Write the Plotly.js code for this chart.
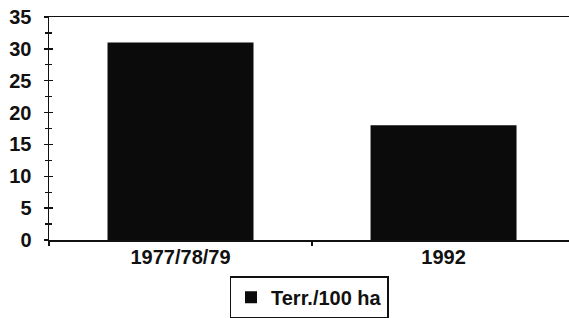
<!DOCTYPE html>
<html><head><meta charset="utf-8">
<script src="https://cdn.plot.ly/plotly-3.0.1.min.js"></script>
<style>html,body{margin:0;padding:0;background:#fff;}#chart{width:569px;height:318px;}</style>
</head><body><div id="chart"></div>
<script>
const categories = ["1977/78/79", "1992"];
const territories = [31, 18];
const seriesName = "Terr./100 ha";

const font = {family: "Liberation Sans, Arial, sans-serif", size: 20, color: "#111", weight: "bold"};
const data = [
  {type: "bar", x: categories, y: territories, name: seriesName,
   marker: {color: "#0b0b0b", line: {width: 0}}, width: 0.555, showlegend: true},
  {type: "scatter", x: categories, y: [null, null], yaxis: "y2", showlegend: false, hoverinfo: "skip"}
];
const layout = {
  width: 569, height: 318,
  margin: {l: 49, r: 0, t: 17, b: 78, autoexpand: false},
  paper_bgcolor: "#fff", plot_bgcolor: "#fff",
  font: font,
  showlegend: true,
  xaxis: {
    type: "category", range: [-0.5, 1.477], automargin: false,
    showline: true, linecolor: "#111", linewidth: 1.5, mirror: true,
    ticks: "outside", ticklen: 4, tickcolor: "#111", tickwidth: 1.5,
    tickson: "boundaries", showgrid: false, zeroline: false,
    ticklabelstandoff: -2,
    tickfont: font
  },
  yaxis: {
    range: [0, 35], dtick: 5, tick0: 0, automargin: false,
    showline: true, linecolor: "#111", linewidth: 1.5,
    ticks: "outside", ticklen: 4, tickcolor: "#111", tickwidth: 1.5,
    minor: {dtick: 2.5, ticks: "outside", ticklen: 3, tickcolor: "#111", tickwidth: 1.2, showgrid: false},
    showgrid: false, zeroline: false, ticklabelstandoff: 8,
    tickfont: font
  },
  yaxis2: {
    overlaying: "y", side: "left", range: [0, 35], dtick: 5, tick0: 0,
    showline: false, showticklabels: false, showgrid: false, zeroline: false,
    ticks: "inside", ticklen: 4, tickcolor: "#111", tickwidth: 1.5,
    minor: {dtick: 2.5, ticks: "inside", ticklen: 3, tickcolor: "#111", tickwidth: 1.2, showgrid: false}
  },
  legend: {
    orientation: "h", x: 0.5, xanchor: "center", y: -0.163, yanchor: "top",
    bordercolor: "#111", borderwidth: 1.5, bgcolor: "#fff",
    font: font,
    itemwidth: 30
  }
};
Plotly.newPlot("chart", data, layout, {displayModeBar: false, staticPlot: true});
</script></body></html>
